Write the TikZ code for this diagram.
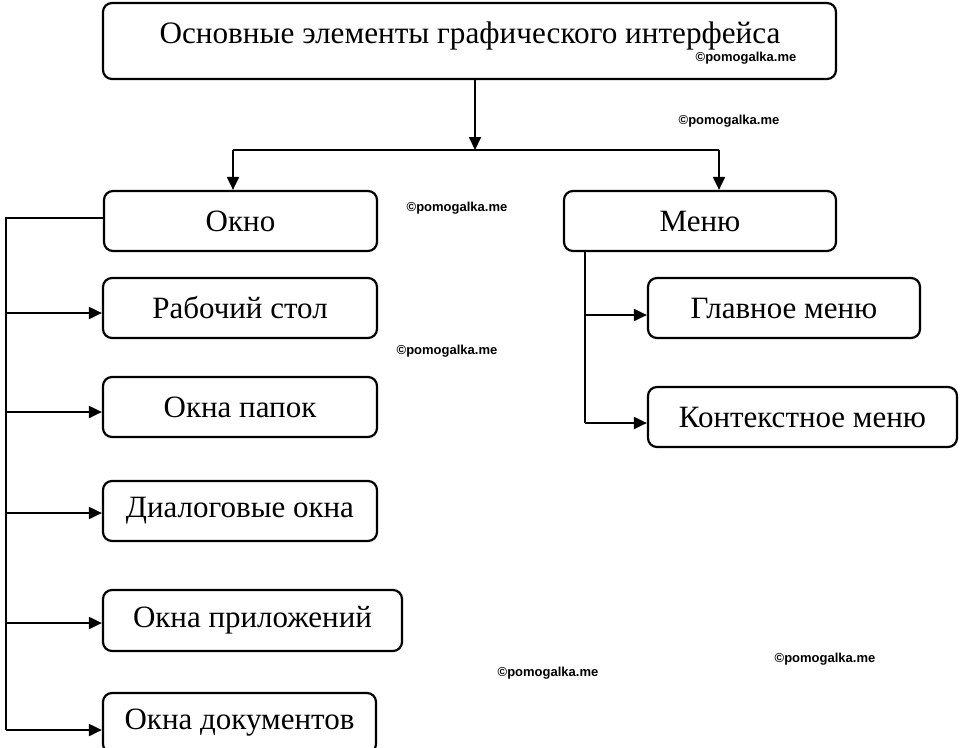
\documentclass[tikz,border=0pt]{standalone}
\usepackage{fontspec}
\setmainfont{Liberation Serif}
\newfontfamily\wmfont{Liberation Sans}
\usetikzlibrary{arrows.meta}
\begin{document}
\begin{tikzpicture}[x=1pt,y=-1pt,
  box/.style={draw, line width=2.2pt, rounded corners=9pt, inner sep=0pt, align=center, font=\fontsize{31}{35}\selectfont},
  conn/.style={line width=2pt},
  arr/.style={line width=2pt, -{Triangle[length=13pt,width=12pt]}},
  wm/.style={font=\wmfont\bfseries\fontsize{13}{15}\selectfont, inner sep=0pt}]
\useasboundingbox[fill=white] (0,0) rectangle (960,747);
% boxes
\node[box, minimum width=733pt, minimum height=76pt] (top) at (469.5,41) {};
\node[font=\fontsize{31.2}{35}\selectfont, inner sep=0pt, anchor=base] (toptext) at (470,43) {Основные элементы графического интерфейса};
\node[box, minimum width=273pt, minimum height=60pt] (okno) at (240.5,221) {Окно};
\node[box, minimum width=272pt, minimum height=60pt] (menu) at (700,221) {Меню};
\node[box, minimum width=274pt, minimum height=60pt] (rab) at (240,308) {Рабочий стол};
\node[box, minimum width=274pt, minimum height=60pt] (papki) at (240,407) {Окна папок};
\node[box, minimum width=274pt, minimum height=60pt] (dial) at (240,511) {Диалоговые окна};
\node[box, minimum width=299pt, minimum height=61pt] (pril) at (252.5,620.5) {Окна приложений};
\node[box, minimum width=273pt, minimum height=60pt] (docs) at (239.5,723) {Окна документов};
\node[box, minimum width=272pt, minimum height=60pt] (glav) at (784,308) {Главное меню};
\node[box, minimum width=309pt, minimum height=60pt] (kont) at (802.5,417) {Контекстное меню};
% watermarks
\node[wm] (w1) at (746,58) {©pomogalka.me};
\node[wm] (w2) at (729,121) {©pomogalka.me};
\node[wm] (w3) at (457,208) {©pomogalka.me};
\node[wm] (w4) at (447,351) {©pomogalka.me};
\node[wm] (w5) at (548,673) {©pomogalka.me};
\node[wm] (w6) at (825,659) {©pomogalka.me};
% top connectors
\coordinate (tsrc) at (475,79);
\coordinate (tmid) at (475,150);
\coordinate (hl) at (233,150);
\coordinate (hr) at (719,150);
\draw[arr] (tsrc) -- (tmid);
\draw[conn] (hl) -- (hr);
\draw[arr] (hl) -- (hl |- okno.north);
\draw[arr] (hr) -- (hr |- menu.north);
% left trunk
\coordinate (l0) at (6,218);
\coordinate (l1) at (6,313);
\coordinate (l2) at (6,412);
\coordinate (l3) at (6,513);
\coordinate (l4) at (6,623);
\coordinate (l5) at (6,730);
\draw[conn] (l0 -| okno.west) -- (l0) -- (l5);
\draw[arr] (l1) -- (l1 -| rab.west);
\draw[arr] (l2) -- (l2 -| papki.west);
\draw[arr] (l3) -- (l3 -| dial.west);
\draw[arr] (l4) -- (l4 -| pril.west);
\draw[arr] (l5) -- (l5 -| docs.west);
% right trunk
\coordinate (m0) at (585,251);
\coordinate (m1) at (585,315);
\coordinate (m2) at (585,423);
\draw[conn] (m0) -- (m2);
\draw[arr] (m1) -- (m1 -| glav.west);
\draw[arr] (m2) -- (m2 -| kont.west);
\end{tikzpicture}
\end{document}
